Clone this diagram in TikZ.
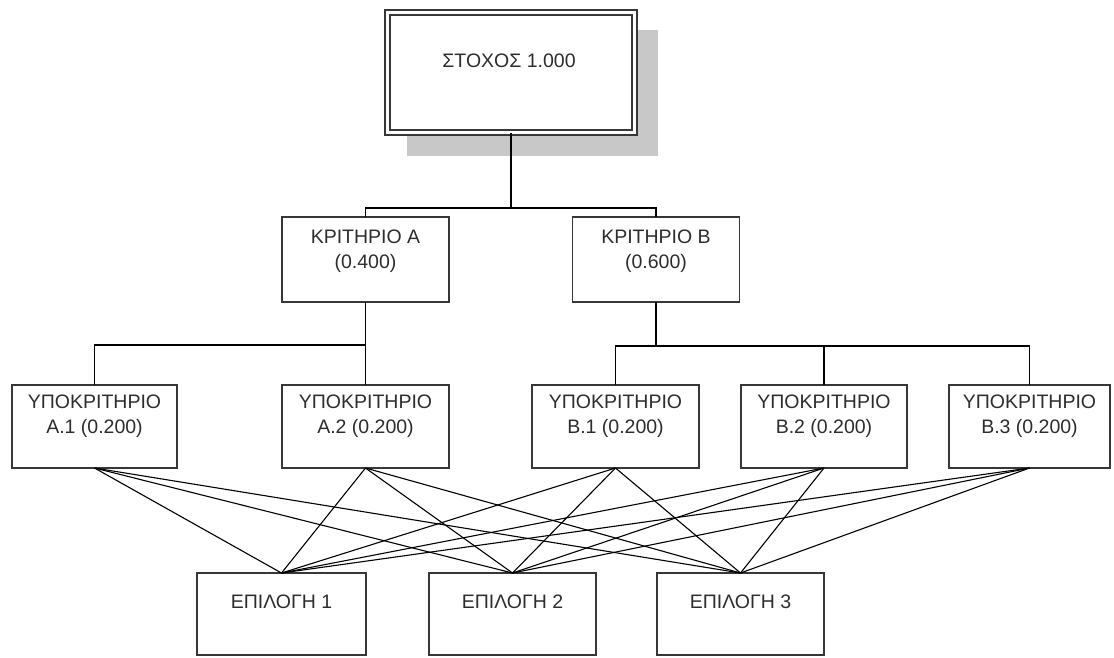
\documentclass[tikz,border=0pt]{standalone}
\usepackage{fontspec}
\setmainfont{Liberation Sans}
\definecolor{shadowgray}{RGB}{200,200,200}
\definecolor{boxline}{RGB}{55,55,55}
\definecolor{txtgray}{RGB}{45,45,45}
\begin{document}
\begin{tikzpicture}[x=1pt,y=-1pt,
  box/.style={draw=boxline,line width=1.4pt,fill=white,rectangle,inner sep=0pt,outer sep=0pt},
  goalbox/.style={box,double=white,double distance=3.5pt,line width=1.4pt,
    minimum width=247pt,minimum height=120pt},
  critbox/.style={box,minimum width=167pt,minimum height=85pt},
  subbox/.style={box,minimum height=83pt},
  optbox/.style={box,minimum height=82pt},
  txt/.style={anchor=north,inner sep=0pt,align=center,text=txtgray,
    font=\fontsize{19.5}{25}\selectfont},
  conn/.style={draw=black,line width=1.3pt},
  connthick/.style={draw=black,line width=2.2pt},
  cross/.style={draw=black,line width=1.1pt}]
\useasboundingbox (0,0) rectangle (1114,657);
% shadow of the goal box
\fill[shadowgray] (407,30) rectangle (658,156);
% boxes
\node[goalbox] (goal) at (511,72.5) {};
\node[critbox] (ka) at (365.5,259.5) {};
\node[critbox] (kb) at (656,259.5) {};
\node[subbox,minimum width=165pt] (a1) at (94.5,426.5) {};
\node[subbox,minimum width=167pt] (a2) at (365.5,426.5) {};
\node[subbox,minimum width=167pt] (b1) at (615.5,426.5) {};
\node[subbox,minimum width=166pt] (b2) at (824,426.5) {};
\node[subbox,minimum width=161pt] (b3) at (1029.5,426.5) {};
\node[optbox,minimum width=169pt] (e1) at (281.5,614) {};
\node[optbox,minimum width=167pt] (e2) at (512.5,614) {};
\node[optbox,minimum width=167pt] (e3) at (740.5,614) {};
% texts
\node[txt] (tgoal) at (509,49.5) {\strut ΣΤΟΧΟΣ 1.000};
\node[txt] (tka) at (365.5,225.5) {\strut ΚΡΙΤΗΡΙΟ Α\\\strut (0.400)};
\node[txt] (tkb) at (656,225.5) {\strut ΚΡΙΤΗΡΙΟ Β\\\strut (0.600)};
\node[txt] (ta1) at (94.5,390.5) {\strut ΥΠΟΚΡΙΤΗΡΙΟ\\\strut Α.1 (0.200)};
\node[txt] (ta2) at (365.5,390.5) {\strut ΥΠΟΚΡΙΤΗΡΙΟ\\\strut Α.2 (0.200)};
\node[txt] (tb1) at (615.5,390.5) {\strut ΥΠΟΚΡΙΤΗΡΙΟ\\\strut Β.1 (0.200)};
\node[txt] (tb2) at (824,390.5) {\strut ΥΠΟΚΡΙΤΗΡΙΟ\\\strut Β.2 (0.200)};
\node[txt] (tb3) at (1029.5,390.5) {\strut ΥΠΟΚΡΙΤΗΡΙΟ\\\strut Β.3 (0.200)};
\node[txt] (te1) at (281.5,590.5) {\strut ΕΠΙΛΟΓΗ 1};
\node[txt] (te2) at (512.5,590.5) {\strut ΕΠΙΛΟΓΗ 2};
\node[txt] (te3) at (740.5,590.5) {\strut ΕΠΙΛΟΓΗ 3};
% tree connectors
\coordinate (bustop) at (511,208);
\coordinate (busa) at (365.5,345);
\coordinate (busb) at (656,346);
\draw[conn] (goal.south) -- (bustop);
\draw[conn] (ka.north) |- (bustop) -| (kb.north);
\draw[conn] (ka.south) -- (a2.north);
\draw[conn] (a1.north) |- (busa);
\draw[connthick] (kb.south) -- (busb);
\draw[connthick] (b1.north |- busb) -- (b2.north |- busb);
\draw[conn] (b1.north) |- (busb);
\draw[conn] (b2.north) -- (b2.north |- busb);
\draw[conn] (b2.north |- busb) -| (b3.north);
% crossing connectors
\foreach \s in {a1,a2,b1,b2,b3}
  \foreach \e in {e1,e2,e3}
    \draw[cross] (\s.south) -- (\e.north);
\end{tikzpicture}
\end{document}
